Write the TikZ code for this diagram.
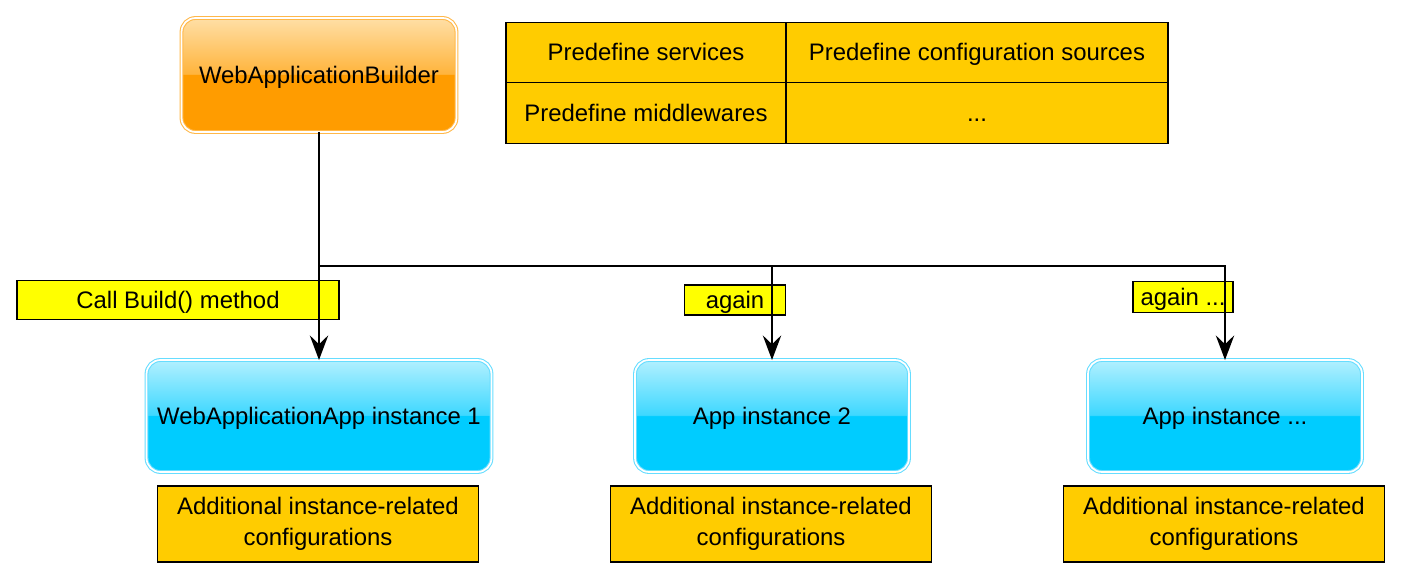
\documentclass[tikz,border=0pt]{standalone}
\usepackage{fontspec}
\setmainfont{Liberation Sans}
\usepackage{tikz}
\usetikzlibrary{arrows.meta}
\definecolor{orangetop}{HTML}{FFDFA6}
\definecolor{orangemid}{HTML}{FFB43C}
\definecolor{orangelow}{HTML}{FF9C00}
\definecolor{orangeedge}{HTML}{FFB84A}
\definecolor{bluetop}{HTML}{B2F0FF}
\definecolor{bluemid}{HTML}{3ED8FF}
\definecolor{bluelow}{HTML}{00CCFF}
\definecolor{blueedge}{HTML}{66DDFF}
\definecolor{cellgold}{HTML}{FFCC00}
\definecolor{notebg}{HTML}{FFFF00}
\pgfdeclareverticalshading{buildergloss}{100bp}{color(0bp)=(orangelow); color(50bp)=(orangelow); color(50.5bp)=(orangemid); color(75bp)=(orangetop); color(100bp)=(orangetop)}
\pgfdeclareverticalshading{appgloss}{100bp}{color(0bp)=(bluelow); color(50bp)=(bluelow); color(50.5bp)=(bluemid); color(75bp)=(bluetop); color(100bp)=(bluetop)}
\tikzset{
    basenode/.style = {
        align=center,
        inner sep=1mm,
        outer sep=0mm,
        font=\fontsize{13.6}{17.5}\selectfont
    },
    onelinenode/.style = {
        basenode,
        text height=1.0em,
        text depth=0.08em
    },
    buildernode/.style = {
        onelinenode,
        rectangle,
        rounded corners=2.8mm,
        shading=buildergloss,
        draw=orangeedge,
        double=white,
        double distance=1pt,
        line width=0.6pt,
        minimum width=5.5cm,
        minimum height=2.28cm
    },
    appnode/.style = {
        onelinenode,
        rectangle,
        rounded corners=2.8mm,
        shading=appgloss,
        draw=blueedge,
        double=white,
        double distance=1pt,
        line width=0.6pt,
        minimum width=5.48cm,
        minimum height=2.24cm
    },
    confnode/.style = {
        basenode,
        rectangle,
        draw=black,
        fill=cellgold,
        line width=0.8pt,
        minimum width=6.42cm,
        minimum height=1.52cm
    },
    cellnode/.style = {
        onelinenode,
        rectangle,
        draw=black,
        fill=cellgold,
        line width=0.8pt,
        minimum height=1.21cm
    },
    labelnode/.style = {
        onelinenode,
        rectangle,
        draw=black,
        fill=notebg,
        line width=0.8pt,
        inner sep=0.5mm
    },
    flowline/.style = {
        draw=black,
        line width=1.1pt,
        -{Stealth[length=14pt,width=10.5pt,inset=5pt]}
    }
}
\begin{document}
\begin{tikzpicture}[x=0.02cm,y=-0.02cm]
    \useasboundingbox (0,0) rectangle (1402,580);
    % builder and predefined parts
    \node [buildernode] (builder) at (319,75) {WebApplicationBuilder};
    \node [cellnode, minimum width=5.6cm] (services) at (646,52.5) {Predefine services};
    \node [cellnode, minimum width=7.64cm] (sources) at (977,52.5) {Predefine configuration sources};
    \node [cellnode, minimum width=5.6cm] (middlewares) at (646,113) {Predefine middlewares};
    \node [cellnode, minimum width=7.64cm] (more) at (977,113) {...};
    % app instances
    \node [appnode, minimum width=6.9cm] (app1) at (319,416) {WebApplicationApp instance 1};
    \node [appnode] (app2) at (772,416) {App instance 2};
    \node [appnode] (app3) at (1225,416) {App instance ...};
    \node [confnode] (conf1) at (318,524) {Additional instance-related\\configurations};
    \node [confnode] (conf2) at (771,524) {Additional instance-related\\configurations};
    \node [confnode] (conf3) at (1224,524) {Additional instance-related\\configurations};
    % labels on the calls
    \node [labelnode, minimum width=6.44cm, minimum height=0.78cm] (callbuild) at (178,300) {Call Build() method};
    \node [labelnode, minimum width=2.02cm, minimum height=0.6cm] (again) at (735,300) {again};
    \node [labelnode, minimum width=2cm, minimum height=0.62cm] (againmore) at (1183,297) {again ...};
    % calls
    \coordinate (split) at (319,266);
    \draw [line width=1.1pt] (builder.south) -- (split);
    \draw [flowline] (split) -- (app1.north);
    \draw [flowline] (split) -| (app2.north);
    \draw [flowline] (split) -| (app3.north);
\end{tikzpicture}
\end{document}
